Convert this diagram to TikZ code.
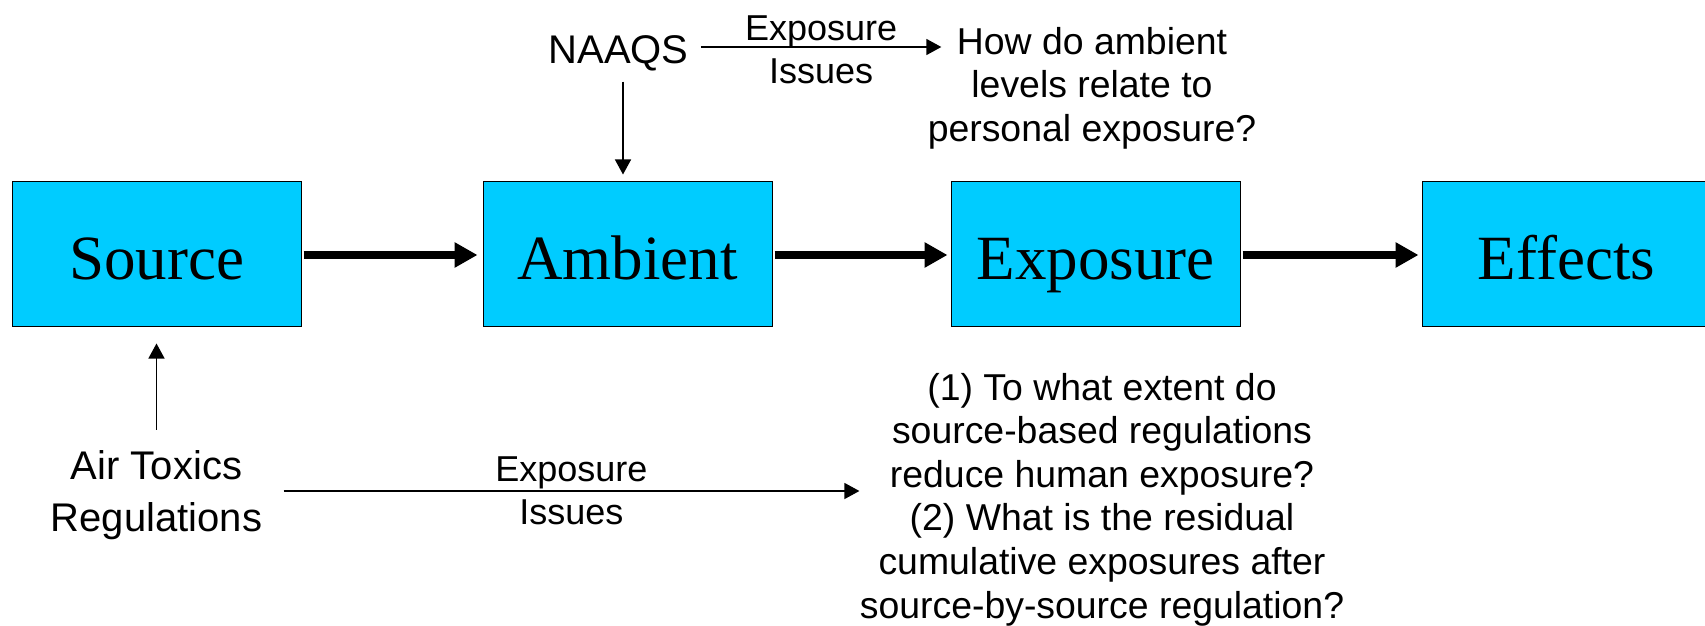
\documentclass[tikz,border=0pt]{standalone}
\usepackage{fontspec}
\setmainfont{Liberation Serif}
\setsansfont{Liberation Sans}
\usetikzlibrary{arrows.meta,positioning}
\definecolor{boxcyan}{HTML}{00CCFF}
\tikzset{
	stage/.style={draw=black,line width=0.5pt,fill=boxcyan,minimum width=144.5pt,minimum height=72pt,inner sep=0pt,text height=30pt,text depth=5pt,font=\fontsize{31.5pt}{36pt}\selectfont},
	note/.style={inner sep=0pt,align=center,font=\sffamily\fontsize{18.7pt}{21.8pt}\selectfont},
	bignote/.style={note,font=\sffamily\fontsize{20pt}{26pt}\selectfont},
	lbl/.style={note,font=\sffamily\fontsize{18pt}{21.5pt}\selectfont},
	flow/.style={line width=4pt,arrows={-Triangle[length=11.5pt,width=12pt]}},
	link/.style={line width=0.7pt,arrows={-Triangle[length=7.5pt,width=8pt]}},
}
\begin{document}
\begin{tikzpicture}[x=0.5pt,y=-0.5pt]
	\useasboundingbox (0,0) rectangle (1705,626);
	% Stages
	\node [stage] (src) at (156.5,254) {Source};
	\node [stage] (amb) at (627.5,254) {Ambient};
	\node [stage] (expo) at (1095.5,254) {Exposure};
	\node [stage] (eff) at (1566.5,254) {Effects};
	% Stage arrows
	\draw [flow,shorten <=1pt,shorten >=2.5pt] ([yshift=-0.5pt]src.east) -- ([yshift=-0.5pt]amb.west);
	\draw [flow,shorten <=1pt,shorten >=1.5pt] ([yshift=-0.5pt]amb.east) -- ([yshift=-0.5pt]expo.west);
	\draw [flow,shorten <=1pt,shorten >=1.5pt] ([yshift=-0.5pt]expo.east) -- ([yshift=-0.5pt]eff.west);

	% NAAQS branch
	\node [bignote] (naaqs) at (618.5,53) {NAAQS};
	\node [note] (ambq) at (1092,88) {How do ambient\\levels relate to\\personal exposure?};
		\draw [link] ([xshift=6pt,yshift=3pt]naaqs.east) -- node [lbl,yshift=-1.5pt] {Exposure\\Issues} ([xshift=7pt,yshift=3pt]naaqs.east -| ambq.west);
		\draw [link] ([xshift=2.25pt,yshift=-5.3pt]naaqs.south) -- ([xshift=2.25pt,yshift=3.5pt]naaqs.south |- amb.north);

	% Air toxics branch
	\node [bignote] (atr) at (156.5,495) {Air Toxics\\Regulations};
	\node [note] (regq) at (1102,499.5) {(1) To what extent do\\source-based regulations\\reduce human exposure?\\(2) What is the residual\\cumulative exposures after\\source-by-source regulation?};
		\draw [link] ([yshift=10pt]atr.north) -- ([yshift=-8.5pt]atr.north |- src.south);
		\draw [link] ([xshift=10.5pt,yshift=2pt]atr.east) -- node [lbl] {Exposure\\Issues} ([yshift=2pt]atr.east -| regq.west);
\end{tikzpicture}
\end{document}
